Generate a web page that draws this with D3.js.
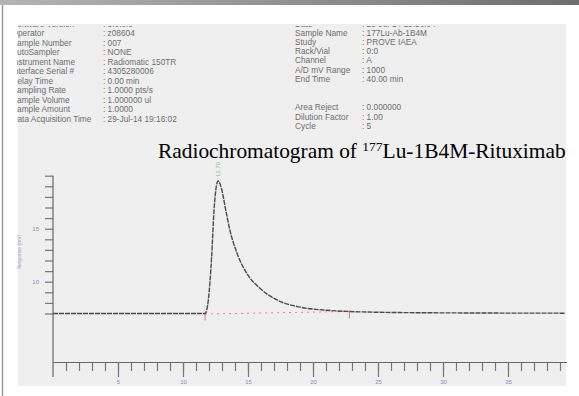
<!DOCTYPE html>
<html>
<head>
<meta charset="utf-8">
<script src="https://cdn.jsdelivr.net/npm/d3@7"></script>
<style>
  body { margin: 0; background: #fff; }
  svg { display: block; }
</style>
</head>
<body>
<svg id="chart" width="579" height="396"></svg>
<script>
// header fields of the report (left and right column)
const leftLabels = ['Software Version', 'Operator', 'Sample Number', 'AutoSampler', 'Instrument Name',
  'Interface Serial #', 'Delay Time', 'Sampling Rate', 'Sample Volume', 'Sample Amount', 'Data Acquisition Time'];
const leftValues = ['3.0.0.0', 'z08604', '007', 'NONE', 'Radiomatic 150TR',
  '4305280006', '0.00 min', '1.0000 pts/s', '1.000000 ul', '1.0000', '29-Jul-14 19:16:02'];
const rightLabels = ['Date', 'Sample Name', 'Study', 'Rack/Vial', 'Channel', 'A/D mV Range', 'End Time',
  '', '', 'Area Reject', 'Dilution Factor', 'Cycle'];
const rightValues = ['29-Jul-14 19:56:04', '177Lu-Ab-1B4M', 'PROVE IAEA', '0:0', 'A', '1000', '40.00 min',
  '', '', '0.000000', '1.00', '5'];

// chromatogram trace: time (min), response
const traceTime = [0, 5, 11.7, 11.95, 12.2, 12.4, 12.7, 13.0, 13.25, 13.6, 14.15, 14.9, 15.9, 17.2,
  19.0, 20.8, 22.8, 26.7, 32, 39.4];
const traceResp = [7.0, 7.0, 7.0, 8.3, 12.3, 17.0, 19.5, 18.6, 17.0, 14.9, 12.7, 10.8, 9.4, 8.3,
  7.6, 7.33, 7.19, 7.09, 7.05, 7.03];

// integration markers
const peakStart = 11.7, peakEnd = 22.8, peakApex = 12.7, peakLabel = '12.70';

const xTicksMinor = d3.range(1, 40);
const xTicksMajor = [5, 10, 15, 20, 25, 30, 35];
const yTicks = d3.range(7, 21);
const yLabels = [10, 15];

const svg = d3.select('#chart');

// frame
const defs = svg.append('defs');
const grad = defs.append('linearGradient').attr('id', 'topbar');
grad.append('stop').attr('offset', '0%').attr('stop-color', '#b4b4b4');
grad.append('stop').attr('offset', '100%').attr('stop-color', '#6e6e6e');
svg.append('rect').attr('width', 579).attr('height', 396).attr('fill', '#fff');
svg.append('rect').attr('width', 579).attr('height', 5).attr('fill', 'url(#topbar)');
svg.append('line').attr('x1', 2.5).attr('x2', 2.5).attr('y1', 5).attr('y2', 396)
  .attr('stroke', '#999').attr('stroke-width', 1.5);
svg.append('rect').attr('x', 18).attr('y', 24).attr('width', 548).attr('height', 362).attr('fill', '#efefef');

// header text, clipped like the scanned report
defs.append('clipPath').attr('id', 'hclip')
  .append('rect').attr('x', 17).attr('y', 26).attr('width', 550).attr('height', 110);

const header = svg.append('g').attr('clip-path', 'url(#hclip)')
  .style('font-family', '"Liberation Sans", Arial, sans-serif')
  .style('font-size', '8.3px').attr('fill', '#6e6e6e');

leftLabels.forEach((l, i) => {
  const yy = 23.5 + i * 9.5;
  header.append('text').attr('x', 11.5).attr('y', yy + 3).text(l);
  header.append('text').attr('x', 103).attr('y', yy + 3).text(': ' + leftValues[i]);
});
rightLabels.forEach((l, i) => {
  if (!l) return;
  const yy = 24 + i * 9.1 + (i > 8 ? 1.5 : 0);
  header.append('text').attr('x', 295).attr('y', yy + 3).text(l);
  header.append('text').attr('x', 362).attr('y', yy + 3).text(': ' + rightValues[i]);
});

// title
const title = svg.append('text').attr('x', 158).attr('y', 158)
  .style('font-family', '"Liberation Serif", "Times New Roman", serif')
  .style('font-size', '21.4px').attr('fill', '#000');
title.append('tspan').text('Radiochromatogram of ');
title.append('tspan').attr('dy', -7).style('font-size', '13.5px').text('177');
title.append('tspan').attr('dy', 7).text('Lu-1B4M-Rituximab');

// scales
const x = d3.scaleLinear().domain([0, 39.5]).range([53, 566.5]);
const y = d3.scaleLinear().domain([7, 17]).range([313.5, 207.5]);
const axisY = 362;

// x axis
const gx = svg.append('g').attr('transform', `translate(0,${axisY})`);
gx.call(d3.axisBottom(x).tickValues(xTicksMinor).tickSize(9).tickSizeOuter(0).tickFormat(''));
gx.append('g').call(d3.axisBottom(x).tickValues(xTicksMajor).tickSize(15).tickPadding(3).tickSizeOuter(0));
gx.selectAll('path.domain').attr('stroke', '#666').attr('stroke-width', 1.2);
gx.selectAll('.tick line').attr('stroke', '#777').attr('stroke-width', 1.2);
gx.selectAll('text').attr('fill', '#8a8ac4').style('font-size', '6px')
  .style('font-family', '"Liberation Sans", Arial, sans-serif');

// y axis
const gy = svg.append('g').attr('transform', 'translate(53,0)');
gy.call(d3.axisLeft(y).tickValues(yTicks).tickSize(8).tickPadding(6)
  .tickFormat(d => yLabels.includes(d) ? d : ''));
gy.select('path.domain').remove();
gy.selectAll('.tick line').attr('stroke', '#777').attr('stroke-width', 1.2);
gy.selectAll('text').attr('fill', '#8a8ac4').style('font-size', '6px')
  .style('font-family', '"Liberation Sans", Arial, sans-serif');
svg.append('line').attr('x1', 53).attr('x2', 53).attr('y1', y(20)).attr('y2', axisY + 15)
  .attr('stroke', '#666').attr('stroke-width', 1.2);

svg.append('text').attr('transform', 'translate(21,252) rotate(-90)')
  .attr('text-anchor', 'middle').attr('fill', '#9a9ad0')
  .style('font-size', '5px').style('font-family', '"Liberation Sans", Arial, sans-serif')
  .text('Response (mV)');

// integration baseline and markers
svg.append('line')
  .attr('x1', x(peakStart)).attr('x2', x(peakEnd))
  .attr('y1', y(7) + 0.5).attr('y2', y(7.19))
  .attr('stroke', '#d98a8a').attr('stroke-width', 1).attr('stroke-dasharray', '2,4');
[peakStart, peakEnd].forEach(t => {
  const yy = y(traceResp[traceTime.indexOf(t)]);
  svg.append('line').attr('x1', x(t)).attr('x2', x(t)).attr('y1', yy - 1).attr('y2', yy + 7)
    .attr('stroke', '#d77').attr('stroke-width', 1);
});

// trace
const trace = traceTime.map((t, i) => [t, traceResp[i]]);
svg.append('path').datum(trace)
  .attr('fill', 'none').attr('stroke', '#4a4a4a').attr('stroke-width', 1.4)
  .attr('stroke-dasharray', '5,1')
  .attr('d', d3.line().x(d => x(d[0])).y(d => y(d[1])).curve(d3.curveMonotoneX));

// peak retention label
svg.append('text')
  .attr('transform', `translate(${x(peakApex) + 2},${y(19.5) - 4}) rotate(-90)`)
  .attr('fill', '#7cc47c').style('font-size', '6px')
  .style('font-family', '"Liberation Sans", Arial, sans-serif')
  .text(peakLabel);
</script>
</body>
</html>
